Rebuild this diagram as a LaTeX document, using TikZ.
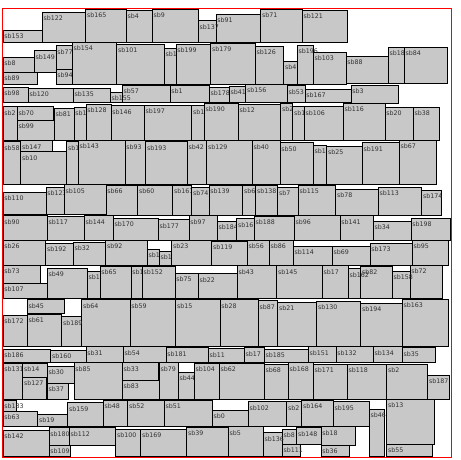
\documentclass[tikz,border=0pt]{standalone}
\usepackage{fontspec}
\newfontfamily\lblfont{DejaVu Sans}
\definecolor{boxgray}{RGB}{200,200,200}
\definecolor{lblgray}{RGB}{50,50,50}

\begin{document}
\begin{tikzpicture}[
    x=1pt, y=-1pt,
    blk/.style={draw=black, fill=boxgray, line width=0.9pt},
    lbl/.style={anchor=north west, inner sep=0pt, text=lblgray,
                font=\lblfont\fontsize{6.3}{7}\selectfont},
    frame/.style={draw=red, line width=1pt}
]
\useasboundingbox (0,0) rectangle (461,460);
% label/x1/y1/x2/y2, in pixels from the top left
\foreach \t/\xa/\ya/\xb/\yb [count=\i] in {%
sb153/3/30.3/42.3/42.3,sb122/42.3/12.3/85.7/42.3,sb165/85.7/9.3/126.3/42.3,sb4/126.3/10.3/152.3/42.3,%
sb9/152.3/9/198.3/42.3,sb91/216/14.3/260.7/42.3,sb137/198.3/20.7/216/42.3,sb71/260.7/9/302.3/42.3,%
sb121/302.3/10/347.7/42.3,%
sb8/3/57.3/34.3/72.3,sb149/34.3/50.7/56/72.3,sb89/3/72.3/37.3/84.3,sb77/56/45.7/72.3/69.3,%
sb94/56/69.3/72.3/84.3,sb154/72.3/42.3/116.7/84.3,sb101/116.7/44.3/164.3/84.3,sb1/164.3/48.3/176/84.3,%
sb199/176/44.3/210.7/84.3,sb179/210.7/43/255.3/84.3,sb126/255.3/46.3/283.7/84.3,sb4/283.7/61.3/297.3/84.3,%
sb196/297.3/45.3/313.3/84.3,sb103/313.3/52.3/346/84.3,sb88/346/56.3/388.3/83.7,sb18/388.3/47.3/404.3/83.7,%
sb84/404.3/47.3/447.3/83.7,%
sb98/3/87.3/28.3/102.7,sb120/28.3/88.3/73.3/102.7,sb135/73.3/88.3/110.3/102.7,sb57/122.3/85/170/102.7,%
sb155/110.3/92/122.3/102.7,sb1/170/85/209.3/102.7,sb178/209.3/87.3/229.3/102.7,sb41/229.3/86/245.7/102.7,%
sb156/245.7/84.3/287.3/102.7,sb167/305/89.3/351/102.7,sb53/287.3/85.7/305/102.7,sb3/351/85.3/398.3/103.3,%
sb2/3/106.7/17.3/140,sb70/17.3/106.7/53.3/120,sb99/17.3/120/54.3/140,sb81/54.3/108.3/74/140,%
sb1/74/107.3/86/140,sb128/86/104/111/140,sb146/111/105.7/144.3/140,sb197/144.3/105/191.7/140,%
sb1/191.7/105.7/204.3/140,sb190/204.3/103.3/238.3/140,sb12/238.3/104.3/280.7/140,sb2/280.7/103.3/292.7/140,%
sb1/292.7/106.7/304.3/140,sb106/304.3/106.7/343.3/140,sb116/343.3/103.3/385/140,sb20/385/107.3/413.3/140,%
sb38/413.3/107.3/439.3/140,%
sb58/3/141.7/20.7/184.7,sb147/20.7/140.7/52.3/151.7,sb10/20.7/151.7/66.7/184.7,sb157/66.7/141.7/78.3/184.7,%
sb143/78.3/140/125/184.7,sb93/125/140.7/145.7/184.7,sb193/145.7/141.7/187.3/184.7,sb42/187.3/140.7/206.7/184.7,%
sb129/206.7/140.7/252.3/184.7,sb40/252.3/140.7/280/184.7,sb50/280/142.7/313.3/184.7,sb124/313.3/145/326.7/184.7,%
sb25/326.7/146/362.3/184.7,sb191/362.3/142.7/399.3/184.7,sb67/399.3/140/436/184.7,%
sb110/3/192.3/46/214.7,sb123/46/187.3/64.3/214.7,sb105/64.3/184.7/106/214.7,sb66/106/185.3/137.7/215.3,%
sb60/137.7/185.3/172.7/215.3,sb161/172.7/185.3/191.7/215.3,sb74/191.7/187.3/209/215.3,sb139/209/185.3/242.7/215.3,%
sb6/242.7/185.3/255.7/215.3,sb138/255.7/185.3/277.7/215.3,sb7/277.7/187.3/298.3/215.3,sb115/298.3/185.3/335.7/215.3,%
sb78/335.7/189/378.3/215.3,sb113/378.3/187.3/421.7/215.3,sb174/421.7/190.3/441.7/215.3,%
sb90/3/215.7/47.3/240.3,sb117/47.3/216.3/84.3/240.3,sb144/84.3/215.7/113.3/240.3,sb170/113.3/218/158.3/240.3,%
sb177/158.3/219.7/189/240.3,sb97/189/215.7/217.3/240.3,sb184/217.3/221.3/236.7/240.3,sb16/236.7/218.7/254.3/240.3,%
sb188/254.3/216.3/294.3/240.3,sb96/294.3/215.7/340/240.3,sb141/340/215.7/373.3/240.3,sb34/373.3/221.3/411/240.3,%
sb198/411/218/450.5/240.3,%
sb26/3/240.3/45.7/265.3,sb192/45.7/243/73.3/265.3,sb32/73.3/242/105.7/265.3,sb92/105.7/240.3/147.3/265.3,%
sb140/147.3/249/159.3/265.3,sb176/159.3/251.3/171.7/265.3,sb23/171.7/240.3/211.7/265.3,sb119/211.7/241.3/247.3/265.3,%
sb56/247.3/240.3/269.3/265.3,sb86/269.3/240.3/293.3/265.3,sb114/293.3/246.3/332.3/265.3,sb69/332.3/246.3/370/265.3,%
sb173/370/243/412.3/265.3,sb95/412.3/240.3/448.3/265.3,%
sb73/3/265.3/40/283,sb107/3/283/47.3/298.7,sb49/47.3/268/87.3/298.7,sb150/87.3/271.3/100/298.7,%
sb65/100/266.3/131/298.7,sb16/131/266.3/142.3/298.7,sb152/142.3/266.3/175/298.7,sb75/175/273/198.3/298.7,%
sb22/198.3/273.7/237.3/298.7,sb43/237.3/265.7/276.7/298.7,sb145/276.7/265.7/322.3/298.7,sb17/322.3/265.7/348.3/298.7,%
sb82/360.7/266.3/392.3/298.7,sb162/348.3/268.7/360.7/298.7,sb72/410/265.3/442.3/298.7,sb158/392.3/271.3/410/298.7,%
sb45/27.3/299.7/64.3/313.3,sb64/81.7/299.7/130/346.5,sb172/3/315.3/27.3/346.5,sb61/27.3/314.3/61.7/346.5,%
sb189/61.7/316.7/81.7/346.5,sb59/130/299.7/175.7/346.5,sb15/175.7/299.7/220/346.5,sb28/220/299.7/258.3/346.5,%
sb87/258.3/300.7/277.7/346.5,sb21/277.7/302.3/316.7/346.5,sb130/316.7/301.3/360.7/346.5,sb194/360.7/303/402.3/346.5,%
sb163/402.3/299/448.3/346.5,%
sb186/3/349.3/50.7/362,sb160/50.7/350.3/86/362,sb31/86/346.7/123.3/362,sb54/123.3/346.7/166/362,%
sb181/166/347.7/208.3/362,sb11/208.3/348.7/244.3/362,sb17/244.3/347.7/264.3/362,sb185/264.3/349.3/308.3/362,%
sb151/308.3/346.7/336/362,sb132/336/346.7/373.3/362,sb134/373.3/346.7/402.3/362,sb35/402.3/347.7/435.7/362,%
sb131/3/363.3/22.7/399.3,sb14/22.7/363.3/47.3/377,sb127/22.7/377/46.7/399.3,sb30/47.3/366/74/383.3,%
sb37/47.3/383.3/68.3/399.3,sb85/74/362.7/122.3/399.3,sb33/122.3/362.7/158.3/380,sb83/122.3/380/159.3/399.3,%
sb79/159.3/362.7/178.3/399.3,sb44/178.3/372/194.3/399.3,sb104/194.3/363.3/219.3/399.3,sb62/219.3/363.3/264.3/399.3,%
sb68/264.3/364.3/288.3/399.3,sb168/288.3/362.7/313.3/399.3,sb171/313.3/364.3/347.3/399.3,sb118/347.3/364.3/386.7/399.3,%
sb2/386.7/364.3/427.7/399.3,sb187/427.7/375.3/449.3/399.3,%
sb183/3/400/16/411.3,sb63/3/411.3/37.7/426,sb19/37.7/414.3/67.7/426,sb159/67.7/402.7/103.3/426,%
sb48/103.3/400/127.7/426,sb52/127.7/400/164.3/426,sb51/164.3/400/212.3/426,sb0/212.3/410/248.3/426,%
sb102/248.3/401.7/286.7/426,sb2/286.7/401.7/301.7/426,sb164/301.7/400/333.3/426,sb195/333.3/401.7/369.3/426,%
sb46/369.3/409.3/384.3/456.5,sb13/386.7/399.3/434.3/444.3,sb55/386.7/444.3/432.3/456.5,%
sb142/3/430.3/49/456.5,sb180/49/427.7/69.3/445.3,sb109/49/445.3/70/456.5,sb112/69.3/427.7/115/445.3,%
sb100/115.7/429.3/140.7/456.5,sb169/140.7/429.3/186.7/456.5,sb39/186.7/427/228.3/456.5,sb5/228.3/426.7/263.3/456.5,%
sb8/282.3/429.3/296.7/444.3,sb111/282.3/444.3/300/456.5,sb136/263.3/432.7/282.3/456.5,sb148/296.7/427.7/321/444.3,%
sb18/321/426.7/355/445.3,sb36/321/445.3/349/456.5}{
  \draw[blk] (\xa,\ya) rectangle (\xb,\yb);
  \node[lbl] (box\i) at ({\xa+1.2},{\ya+3.5}) {\t};
}
\draw[frame] (2,8.3) rectangle (451,457.3);
\end{tikzpicture}
\end{document}
